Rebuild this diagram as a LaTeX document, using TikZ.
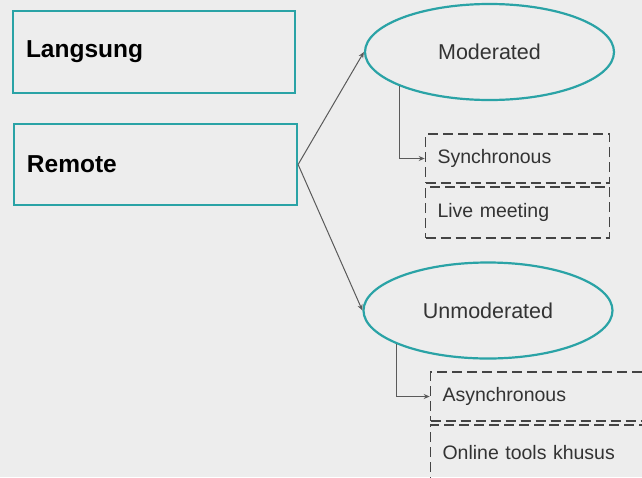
\documentclass[tikz,border=0pt]{standalone}
\usepackage{fontspec}
\setmainfont{Liberation Sans}
\usetikzlibrary{arrows.meta,shapes.geometric}
\definecolor{bgc}{HTML}{EDEDED}
\definecolor{teal1}{HTML}{2AA3A6}
\definecolor{linec}{HTML}{5A5A5A}
\definecolor{dashc}{HTML}{444444}
\definecolor{txtc}{HTML}{333333}
\tikzset{
  mainbox/.style={draw=teal1, line width=2.2pt, minimum height=82pt, inner xsep=13pt, text width=256pt, align=left, font=\fontsize{24.5}{28}\selectfont\bfseries, text=black},
  oval/.style={ellipse, draw=teal1, line width=2.2pt, minimum width=249pt, minimum height=96pt, inner sep=0pt, font=\fontsize{21.5}{25}\selectfont, text=txtc},
  dbox/.style={draw=dashc, line width=1.6pt, dash pattern=on 10pt off 5pt, inner xsep=12pt, align=left, font=\fontsize{19.5}{22}\selectfont, text=txtc},
  conn/.style={draw=linec, line width=1pt, -{Stealth[length=6pt,width=5pt]}}
}
\begin{document}
\begin{tikzpicture}[x=1pt,y=-1pt]
\useasboundingbox (0,0) rectangle (642,477);
\clip (0,0) rectangle (642,477);
\fill[bgc] (0,0) rectangle (642,477);
\node[mainbox, minimum height=82pt] (lang) at (154,52) {Langsung};
\node[mainbox, minimum height=81pt, text width=257pt] (remote) at (155.5,164.5) {Remote};
\node[oval] (mod) at (489.5,52) {Moderated};
\node[oval] (unmod) at (488,310.5) {Unmoderated};
\node[dbox, text width=160pt, minimum height=49pt] (sync) at (517.5,158.5) {Synchronous};
\node[dbox, text width=160pt, minimum height=51pt] (live) at (517.5,212.5) {Live meeting};
\node[dbox, text width=207pt, minimum height=49pt] (async) at (546,396.5) {Asynchronous};
\node[dbox, text width=207pt, minimum height=56pt] (online) at (546,453) {Online tools khusus};
\draw[conn] (remote.east) -- (mod.west);
\draw[conn] (remote.east) -- (unmod.west);
\draw[conn] (mod.201) |- (sync.west);
\draw[conn] (unmod.200) |- (async.west);
\end{tikzpicture}
\end{document}
